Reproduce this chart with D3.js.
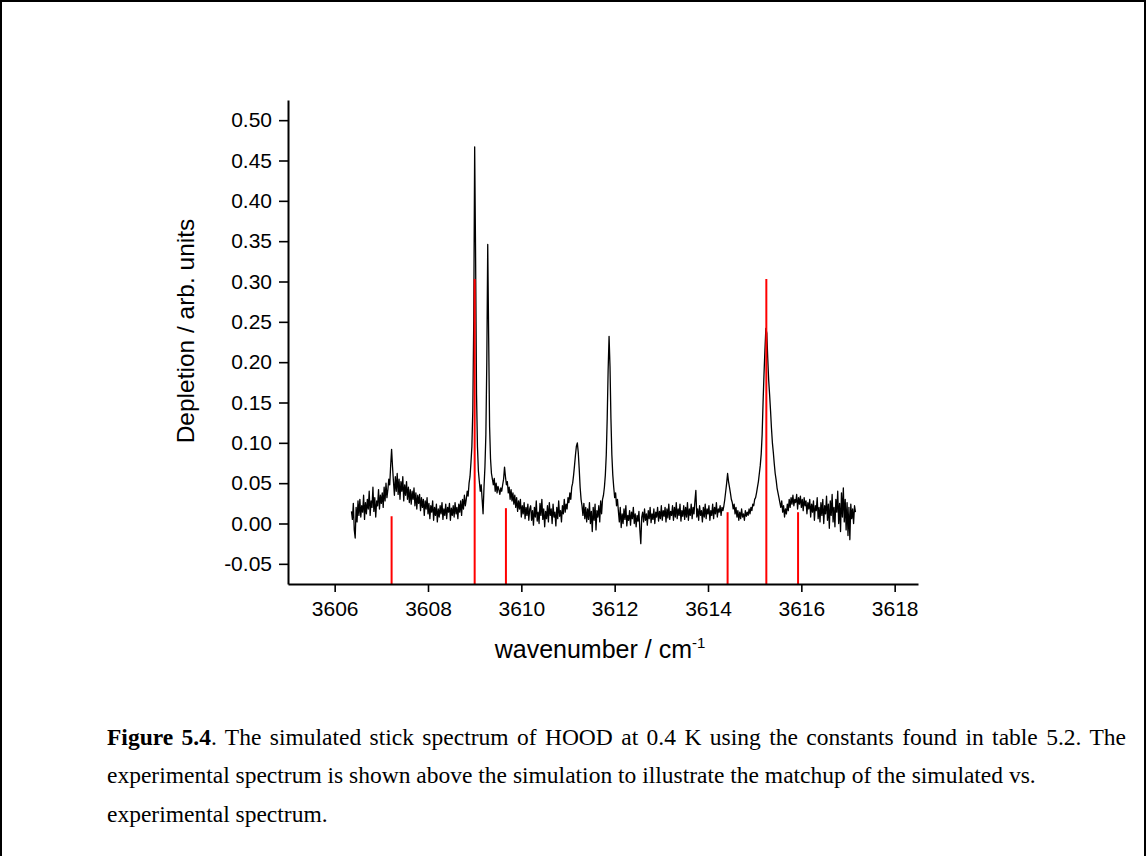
<!DOCTYPE html>
<html>
<head>
<meta charset="utf-8">
<script src="https://cdn.jsdelivr.net/npm/d3@7"></script>
<style>
  html, body { margin: 0; padding: 0; background: #fff; }
  svg { display: block; }
</style>
</head>
<body>
<svg id="fig" width="1147" height="856"></svg>
<script>
// Axis tick values and labels
const xMajorTicks = [3606, 3608, 3610, 3612, 3614, 3616, 3618];
const xMinorTicks = [3605, 3607, 3609, 3611, 3613, 3615, 3617];
const yMajorTicks = [-0.05, 0.00, 0.05, 0.10, 0.15, 0.20, 0.25, 0.30, 0.35, 0.40, 0.45, 0.50];
const yTickLabels = ["-0.05", "0.00", "0.05", "0.10", "0.15", "0.20", "0.25", "0.30", "0.35", "0.40", "0.45", "0.50"];
const yMinorTicks = [-0.075, -0.025, 0.025, 0.075, 0.125, 0.175, 0.225, 0.275, 0.325, 0.375, 0.425, 0.475, 0.525];

// Simulated stick spectrum: line positions (cm-1) and stick tops
const stickWavenumber = [3607.22, 3609.00, 3609.67, 3614.42, 3615.25, 3615.93];
const stickTop = [0.009, 0.303, 0.019, 0.014, 0.303, 0.014];
const stickBase = -0.075;

// Experimental depletion spectrum, sampled every 0.02 cm-1 from 3606.36 cm-1
const traceStart = 3606.36;
const traceStep = 0.02;
const depletion = [
  // 3606.36 - 3607.00
  0.015, 0.005, 0.025, -0.008, -0.018, 0.020, 0.002, 0.028, 0.010, 0.030,
  0.008, 0.022, 0.014, 0.035, 0.005, 0.026, 0.012, 0.030, 0.018, 0.040,
  0.010, 0.028, 0.020, 0.045, 0.015, 0.032, 0.008, 0.028, 0.022, 0.042,
  0.018, 0.035, 0.025,
  // 3607.02 - 3607.60
  0.038, 0.020, 0.045, 0.028, 0.050, 0.032, 0.042, 0.055, 0.048, 0.072,
  0.092, 0.070, 0.052, 0.035, 0.058, 0.040, 0.062, 0.036, 0.055, 0.030,
  0.052, 0.040, 0.058, 0.028, 0.048, 0.035, 0.052, 0.030, 0.045, 0.026,
  // 3607.62 - 3608.80
  0.042, 0.024, 0.040, 0.030, 0.044, 0.022, 0.038, 0.018, 0.035, 0.025,
  0.036, 0.016, 0.032, 0.020, 0.030, 0.010, 0.028, 0.018, 0.032, 0.012,
  0.025, 0.006, 0.022, 0.014, 0.028, 0.004, 0.020, 0.010, 0.024, 0.002,
  0.018, 0.008, 0.022, 0.012, 0.026, 0.005, 0.018, 0.010, 0.024, 0.006,
  0.020, 0.014, 0.025, 0.004, 0.019, 0.010, 0.022, 0.008, 0.026, 0.012,
  0.020, 0.006, 0.024, 0.014, 0.028, 0.010, 0.030, 0.018, 0.035, 0.022,
  // 3608.82 - 3609.40
  0.030, 0.040, 0.034, 0.050, 0.058, 0.075, 0.095, 0.140, 0.250, 0.467,
  0.330, 0.160, 0.095, 0.065, 0.052, 0.040, 0.048, 0.030, 0.012, 0.045,
  0.070, 0.110, 0.200, 0.346, 0.230, 0.120, 0.080, 0.062, 0.055, 0.048,
  // 3609.42 - 3610.18
  0.056, 0.040, 0.050, 0.038, 0.046, 0.042, 0.036, 0.044, 0.040, 0.048,
  0.055, 0.070, 0.058, 0.048, 0.052, 0.038, 0.045, 0.030, 0.042, 0.028,
  0.038, 0.024, 0.035, 0.020, 0.032, 0.015, 0.028, 0.018, 0.030, 0.008,
  0.022, 0.012, 0.026, 0.006, 0.020, 0.010, 0.024, 0.004, 0.018,
  // 3610.20 - 3611.06
  0.022, 0.004, 0.016, -0.002, 0.020, 0.008, 0.028, 0.003, 0.014, 0.000,
  0.025, 0.010, 0.030, 0.005, 0.018, -0.004, 0.015, 0.006, 0.022, 0.002,
  0.026, 0.010, 0.018, 0.000, 0.024, 0.008, 0.014, -0.003, 0.020, 0.006,
  0.028, 0.009, 0.016, 0.002, 0.022, 0.012, 0.030, 0.014, 0.024, 0.018,
  0.032, 0.026, 0.038, 0.030,
  // 3611.08 - 3611.40
  0.045, 0.050, 0.060, 0.072, 0.085, 0.096, 0.100, 0.088, 0.068, 0.045,
  0.030, 0.022, 0.010, 0.025, 0.006, 0.020, 0.002,
  // 3611.42 - 3611.74
  0.018, 0.005, 0.026, 0.000, 0.015, -0.010, 0.020, 0.004, 0.024, -0.008,
  0.016, 0.008, 0.022, 0.002, 0.028, 0.012, 0.030,
  // 3611.76 - 3612.06
  0.035, 0.045, 0.060, 0.085, 0.130, 0.190, 0.232, 0.195, 0.130, 0.085,
  0.060, 0.045, 0.032, 0.038, 0.022, 0.030,
  // 3612.08 - 3614.30
  0.015, 0.002, 0.020, -0.005, 0.012, 0.000, 0.018, 0.005, 0.022, -0.003,
  0.010, 0.004, 0.016, -0.002, 0.014, 0.006, 0.020, 0.000, 0.012, -0.004,
  0.010, 0.003, 0.015, -0.008, -0.025, 0.008, 0.014, 0.002, 0.018, 0.004,
  0.012, -0.002, 0.016, 0.006, 0.020, 0.001, 0.012, 0.005, 0.018, 0.000,
  0.014, 0.008, 0.020, 0.003, 0.015, 0.006, 0.022, 0.004, 0.016, 0.009,
  0.020, 0.002, 0.018, 0.007, 0.024, 0.005, 0.015, 0.010, 0.022, 0.004,
  0.020, 0.008, 0.026, 0.006, 0.018, 0.010, 0.024, 0.003, 0.016, 0.009,
  0.022, 0.005, 0.020, 0.008, 0.026, 0.004, 0.018, 0.010, 0.024, 0.006,
  0.020, 0.012, 0.028, 0.041, 0.008, 0.018, 0.004, 0.022, 0.010, 0.016,
  0.002, 0.020, 0.008, 0.024, 0.006, 0.018, 0.012, 0.022, 0.004, 0.016,
  0.010, 0.024, 0.006, 0.020, 0.012, 0.026, 0.008, 0.018, 0.014, 0.022,
  0.010, 0.020,
  // 3614.32 - 3614.60
  0.016, 0.022, 0.030, 0.040, 0.050, 0.062, 0.052, 0.045, 0.038, 0.030,
  0.026, 0.018, 0.024, 0.012, 0.020,
  // 3614.62 - 3615.00
  0.008, 0.016, 0.004, 0.014, 0.006, 0.018, 0.008, 0.012, 0.004, 0.016,
  0.009, 0.014, 0.010, 0.018, 0.012, 0.020, 0.016, 0.024, 0.022, 0.030,
  // 3615.02 - 3615.60
  0.032, 0.038, 0.045, 0.052, 0.062, 0.072, 0.086, 0.110, 0.150, 0.185,
  0.215, 0.242, 0.236, 0.205, 0.178, 0.160, 0.140, 0.118, 0.100, 0.088,
  0.074, 0.062, 0.054, 0.044, 0.038, 0.032, 0.026, 0.020, 0.028, 0.014,
  // 3615.62 - 3617.16
  0.022, 0.008, 0.018, 0.012, 0.024, 0.016, 0.030, 0.020, 0.032, 0.024,
  0.035, 0.022, 0.030, 0.026, 0.036, 0.018, 0.032, 0.024, 0.034, 0.020,
  0.030, 0.016, 0.032, 0.022, 0.028, 0.012, 0.026, 0.018, 0.030, 0.008,
  0.024, 0.014, 0.028, 0.004, 0.022, 0.016, 0.032, 0.006, 0.020, 0.002,
  0.026, 0.010, 0.030, 0.000, 0.022, 0.012, 0.034, 0.004, 0.024, -0.006,
  0.028, 0.010, 0.036, 0.002, 0.020, -0.004, 0.030, 0.014, 0.040, 0.000,
  0.025, -0.010, 0.038, 0.008, 0.044, 0.002, 0.030, -0.008, 0.026, -0.015,
  0.020, -0.020, 0.024, 0.006, 0.018, 0.000, 0.022, 0.014
];

const captionLines = [
  [{ text: "Figure 5.4", bold: true }, { text: ". The simulated stick spectrum of HOOD at 0.4 K using the constants found in table 5.2. The", bold: false }],
  [{ text: "experimental spectrum is shown above the simulation to illustrate the matchup of the simulated vs.", bold: false }],
  [{ text: "experimental spectrum.", bold: false }]
];

const svg = d3.select("#fig");
const sans = "'Liberation Sans', Arial, sans-serif";
const serif = "'Liberation Serif', 'Times New Roman', serif";

// Page frame
svg.append("rect")
  .attr("x", 1).attr("y", 1).attr("width", 1144).attr("height", 900)
  .attr("fill", "none").attr("stroke", "#000").attr("stroke-width", 2);

const plot = { left: 288, right: 918, top: 100, bottom: 584 };

const x = d3.scaleLinear().domain([3605, 3618.5]).range([plot.left, plot.right]);
const y = d3.scaleLinear().domain([-0.075, 0.525]).range([plot.bottom, plot.top]);

// Experimental trace
const trace = depletion.map((v, i) => [traceStart + i * traceStep, v]);
svg.append("path")
  .datum(trace)
  .attr("fill", "none")
  .attr("stroke", "#000")
  .attr("stroke-width", 1.3)
  .attr("stroke-linejoin", "round")
  .attr("d", d3.line().x(d => x(d[0])).y(d => y(d[1])));

// Stick spectrum on top
svg.append("g")
  .selectAll("line")
  .data(stickWavenumber.map((w, i) => ({ w, top: stickTop[i] })))
  .join("line")
  .attr("x1", d => x(d.w)).attr("x2", d => x(d.w))
  .attr("y1", y(stickBase)).attr("y2", d => y(d.top))
  .attr("stroke", "#ff0000")
  .attr("stroke-width", 2);

// Axes
function styleAxis(g) {
  g.select(".domain").attr("stroke-width", 2);
  g.selectAll(".tick line").attr("stroke-width", 1.6);
  g.selectAll("text").attr("font-family", sans).attr("font-size", 21).attr("fill", "#000");
}

const xAxisG = svg.append("g").attr("transform", `translate(0,${plot.bottom})`);
xAxisG.call(d3.axisBottom(x).tickValues(xMinorTicks).tickSize(4).tickSizeOuter(0).tickFormat(""));
xAxisG.call(d3.axisBottom(x).tickValues(xMajorTicks).tickSize(8).tickSizeOuter(0).tickPadding(9).tickFormat(d3.format("d")));
styleAxis(xAxisG);

const yAxisG = svg.append("g").attr("transform", `translate(${plot.left},0)`);
yAxisG.call(d3.axisLeft(y).tickValues(yMinorTicks).tickSize(4).tickSizeOuter(0).tickFormat(""));
yAxisG.call(d3.axisLeft(y).tickValues(yMajorTicks).tickSize(9).tickSizeOuter(0).tickPadding(7)
  .tickFormat((d, i) => yTickLabels[i]));
styleAxis(yAxisG);

// Axis titles
const xTitle = svg.append("text")
  .attr("x", 600).attr("y", 658)
  .attr("text-anchor", "middle")
  .attr("font-family", sans).attr("font-size", 25);
xTitle.append("tspan").text("wavenumber / cm");
xTitle.append("tspan").attr("font-size", 15).attr("dy", -10).text("-1");

svg.append("text")
  .attr("transform", "translate(194,331) rotate(-90)")
  .attr("text-anchor", "middle")
  .attr("font-family", sans).attr("font-size", 24.5)
  .text("Depletion / arb. units");

// Caption (first line justified to the text block's right edge)
const captionLeft = 107, captionRight = 1126;
const captionBaselines = [745, 783, 822];
captionLines.forEach((parts, i) => {
  const t = svg.append("text")
    .attr("x", captionLeft).attr("y", captionBaselines[i])
    .attr("font-family", serif).attr("font-size", 23.5);
  parts.forEach(p => t.append("tspan").attr("font-weight", p.bold ? "bold" : "normal").text(p.text));
  if (i === 0) {
    const natural = t.node().getComputedTextLength();
    const gaps = parts.map(p => p.text).join("").split(" ").length - 1;
    const extra = (captionRight - captionLeft - natural) / gaps;
    if (extra > 0) t.attr("word-spacing", extra);
  }
});
</script>
</body>
</html>
